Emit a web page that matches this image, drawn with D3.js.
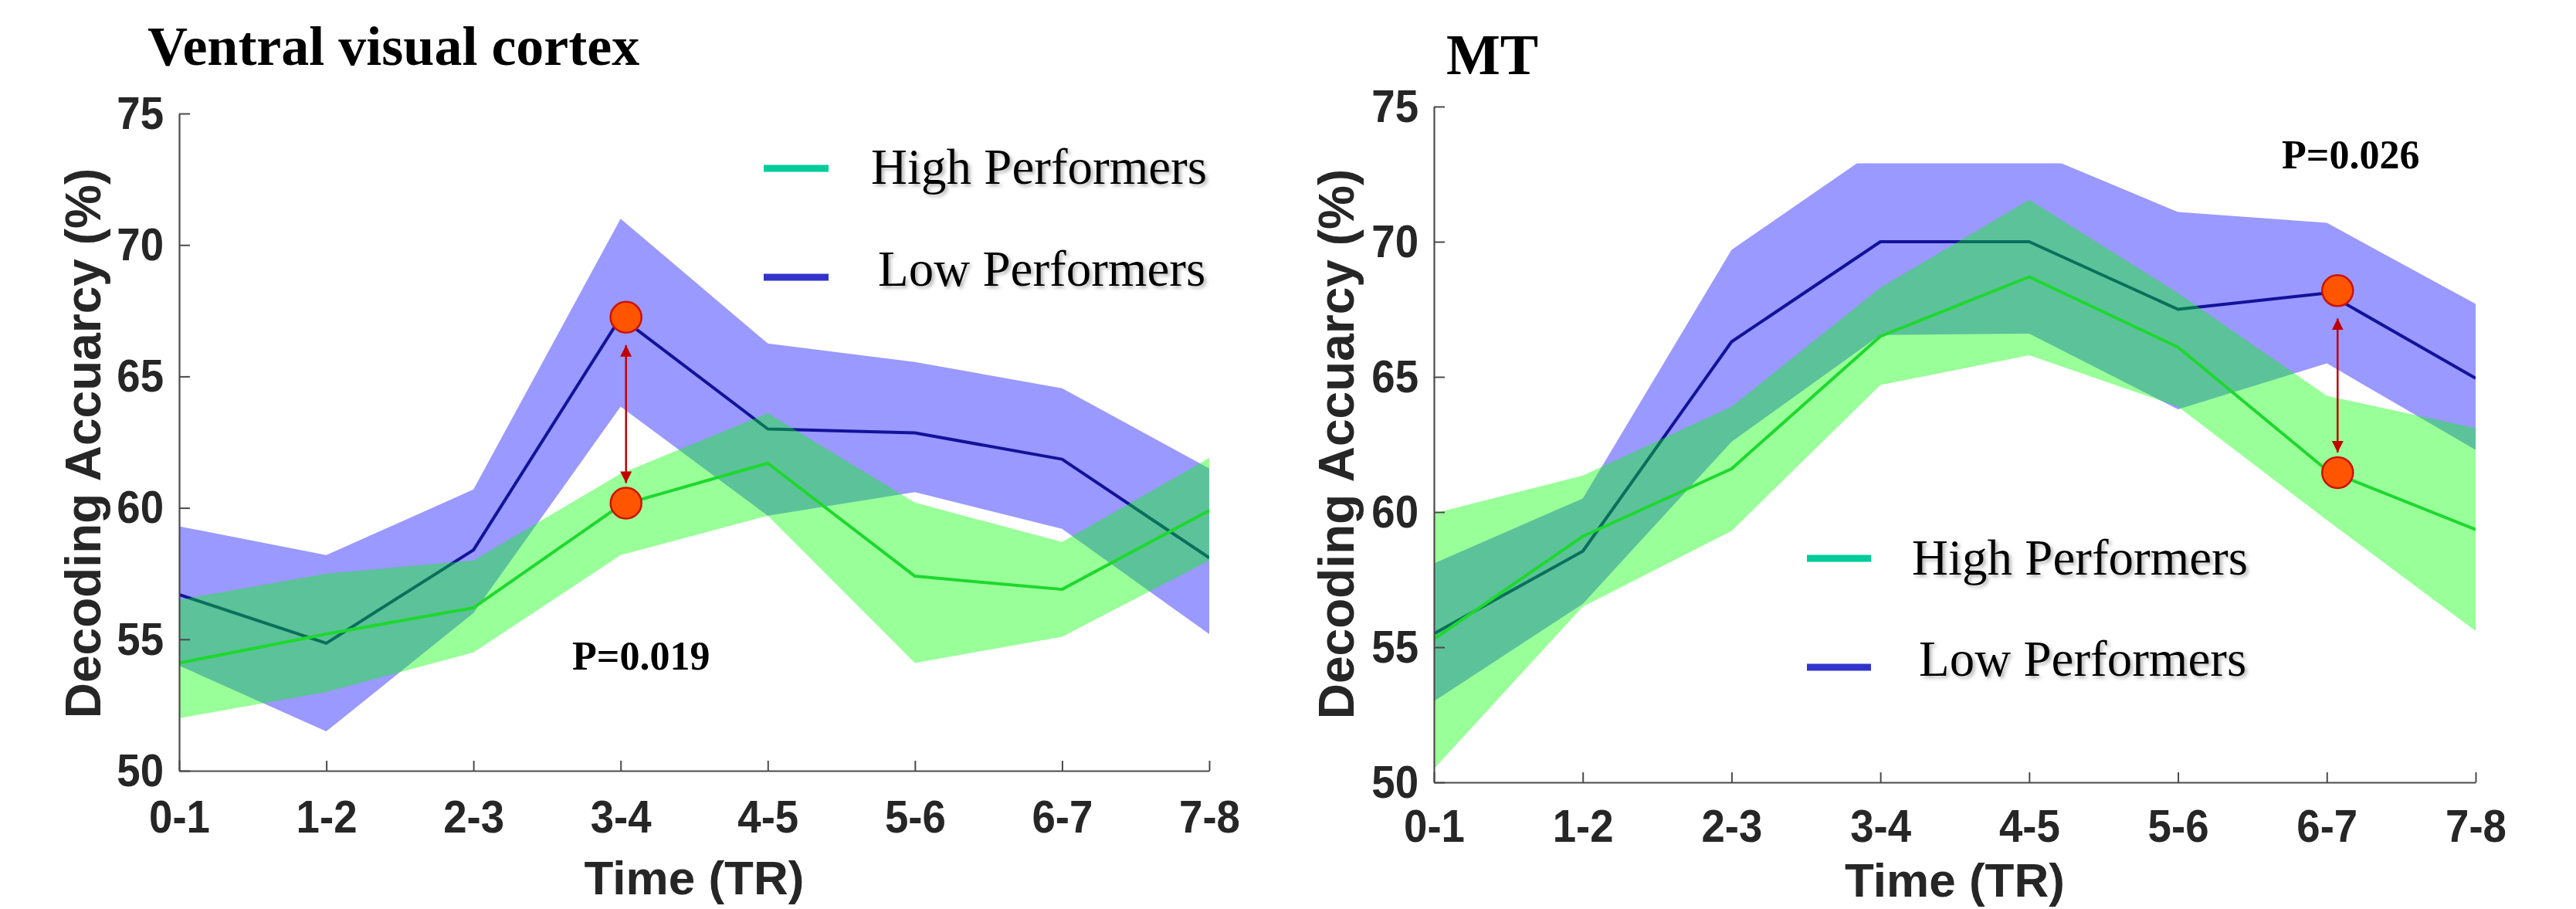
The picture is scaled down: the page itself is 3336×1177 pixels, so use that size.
<!DOCTYPE html>
<html>
<head>
<meta charset="utf-8">
<script src="https://cdn.jsdelivr.net/npm/d3@7"></script>
<style>
  html, body { margin: 0; padding: 0; background: #fff; }
  svg { display: block; }
</style>
</head>
<body>
<svg id="chart" width="3336" height="1177"></svg>
<script>
// ---------- data ----------
const categories = ["0-1", "1-2", "2-3", "3-4", "4-5", "5-6", "6-7", "7-8"];
const yTickValues = [50, 55, 60, 65, 70, 75];
const yDomain = [50, 75];
const seriesNames = ["High Performers", "Low Performers"];

// Ventral visual cortex
const ventralLowMean  = [56.7, 54.85, 58.4, 67.25, 63.0, 62.85, 61.85, 58.1];
const ventralLowUpper = [59.3, 58.2, 60.7, 71.0, 66.25, 65.55, 64.55, 61.5];
const ventralLowLower = [54.0, 51.5, 56.0, 63.85, 59.7, 60.6, 59.2, 55.2];
const ventralHighMean  = [54.1, 55.2, 56.2, 60.1, 61.7, 57.4, 56.9, 59.9];
const ventralHighUpper = [56.5, 57.5, 58.0, 61.3, 63.6, 60.2, 58.7, 61.9];
const ventralHighLower = [52.0, 53.0, 54.5, 58.2, 59.7, 54.1, 55.1, 58.0];
const ventralSig = { category: "3-4", low: 67.25, high: 60.18, label: "P=0.019" };

// MT
const mtLowMean  = [55.5, 58.55, 66.3, 70.0, 70.0, 67.5, 68.1, 64.95];
const mtLowUpper = [58.1, 60.5, 69.7, 73.5, 73.4, 71.1, 70.7, 67.7];
const mtLowLower = [53.0, 56.6, 62.6, 66.55, 66.6, 63.8, 65.5, 62.3];
const mtHighMean  = [55.3, 59.1, 61.6, 66.5, 68.7, 66.1, 61.55, 59.35];
const mtHighUpper = [59.95, 61.35, 63.9, 68.3, 71.55, 68.1, 64.3, 63.1];
const mtHighLower = [50.5, 56.5, 59.3, 64.7, 65.8, 63.9, 59.7, 55.6];
const mtSig = { category: "6-7", low: 68.19, high: 61.46, label: "P=0.026" };
const mtBandCeiling = 72.9; // band area cut off above this value in the original figure

// ---------- layout / style ----------
const panels = [
  {
    title: "Ventral visual cortex", titleX: 191, titleY: 84, titleSize: 72,
    x0: 232, x1: 1566, yTop: 147, yBottom: 998, xLabelPad: 37,
    yLabelX: 130, yLabelY: 574, xTitleY: 1158,
    low: { mean: ventralLowMean, upper: ventralLowUpper, lower: ventralLowLower },
    high: { mean: ventralHighMean, upper: ventralHighUpper, lower: ventralHighLower },
    sig: ventralSig, sigDx: 7, pX: 741, pY: 867, ceiling: null,
    legend: { lineX0: 989, lineX1: 1073, highY: 218, lowY: 359, highTextX: 1128, highTextY: 238, lowTextX: 1137, lowTextY: 370 }
  },
  {
    title: "MT", titleX: 1873, titleY: 96, titleSize: 74,
    x0: 1857, x1: 3206, yTop: 138, yBottom: 1013, xLabelPad: 34,
    yLabelX: 1753, yLabelY: 575, xTitleY: 1161,
    low: { mean: mtLowMean, upper: mtLowUpper, lower: mtLowLower },
    high: { mean: mtHighMean, upper: mtHighUpper, lower: mtHighLower },
    sig: mtSig, sigDx: 14, pX: 2955, pY: 218, ceiling: mtBandCeiling,
    legend: { lineX0: 2340, lineX1: 2423, highY: 723, lowY: 864, highTextX: 2476, highTextY: 744, lowTextX: 2485, lowTextY: 875 }
  }
];

const colors = {
  lowBand: "rgb(0,0,255)", highBand: "rgb(0,255,0)", bandOpacity: 0.4,
  lowLine: "#12129a", highLine: "#1ed82e",
  legendHigh: "#00cc99", legendLow: "#3333cc",
  axis: "#4a4a4a", tickText: "#262626",
  dotFill: "#ff5500", dotStroke: "#cc1100", arrow: "#c00000"
};
const sansBold = "'Liberation Sans', Arial, 'DejaVu Sans', sans-serif";
const serif = "'Liberation Serif', 'Times New Roman', 'DejaVu Serif', serif";
const squeeze = 0.91;

const svg = d3.select("#chart");
const defs = svg.append("defs");
const shadow = defs.append("filter").attr("id", "txtShadow")
  .attr("x", "-10%").attr("y", "-30%").attr("width", "130%").attr("height", "160%");
shadow.append("feDropShadow").attr("dx", 3).attr("dy", 3).attr("stdDeviation", 2)
  .attr("flood-color", "#888").attr("flood-opacity", 0.6);

// arrow markers
function addMarker(id, orient) {
  defs.append("marker").attr("id", id)
    .attr("viewBox", "0 0 10 10").attr("refX", 10).attr("refY", 5)
    .attr("markerWidth", 6).attr("markerHeight", 6)
    .attr("markerUnits", "strokeWidth")
    .attr("orient", orient)
    .append("path").attr("d", "M0,0 L10,5 L0,10 Z").attr("fill", colors.arrow);
}
addMarker("arrowEnd", "auto");
addMarker("arrowStart", "auto-start-reverse");

panels.forEach((p, pi) => {
  const x = d3.scalePoint().domain(categories).range([p.x0, p.x1]).padding(0);
  const y = d3.scaleLinear().domain(yDomain).range([p.yBottom, p.yTop]);
  const g = svg.append("g");

  const clipId = "clip" + pi;
  const clipTop = p.ceiling != null ? y(p.ceiling) : p.yTop - 200;
  defs.append("clipPath").attr("id", clipId).append("rect")
    .attr("x", p.x0).attr("y", clipTop)
    .attr("width", p.x1 - p.x0).attr("height", p.yBottom - clipTop);

  const area = s => d3.area()
    .x((d, i) => x(categories[i]))
    .y0((d, i) => y(s.lower[i]))
    .y1((d, i) => y(s.upper[i]))(s.mean);
  const line = arr => d3.line().x((d, i) => x(categories[i])).y(d => y(d))(arr);

  const plot = g.append("g").attr("clip-path", `url(#${clipId})`);
  plot.append("path").attr("d", area(p.low)).attr("fill", colors.lowBand).attr("fill-opacity", colors.bandOpacity);
  plot.append("path").attr("d", line(p.low.mean)).attr("fill", "none").attr("stroke", colors.lowLine).attr("stroke-width", 4).attr("stroke-linejoin", "round");
  plot.append("path").attr("d", area(p.high)).attr("fill", colors.highBand).attr("fill-opacity", colors.bandOpacity);
  plot.append("path").attr("d", line(p.high.mean)).attr("fill", "none").attr("stroke", colors.highLine).attr("stroke-width", 4).attr("stroke-linejoin", "round");

  // axes
  const xAxis = d3.axisBottom(x).tickSizeInner(-13).tickSizeOuter(0).tickPadding(p.xLabelPad);
  const yAxis = d3.axisLeft(y).tickValues(yTickValues).tickSizeInner(-14).tickSizeOuter(0).tickPadding(20);
  const gx = g.append("g").attr("transform", `translate(0,${p.yBottom})`).call(xAxis);
  const gy = g.append("g").attr("transform", `translate(${p.x0},0)`).call(yAxis);
  [gx, gy].forEach(ax => {
    ax.select(".domain").attr("stroke", colors.axis).attr("stroke-width", 2.2);
    ax.selectAll(".tick line").attr("stroke", colors.axis).attr("stroke-width", 2);
    ax.selectAll(".tick text").attr("fill", colors.tickText)
      .style("font-family", sansBold).style("font-weight", "bold").style("font-size", "60px");
  });
  gx.selectAll(".tick text").attr("transform", `scale(${squeeze},1)`);
  gy.selectAll(".tick text").attr("x", -20 / squeeze).attr("transform", `scale(${squeeze},1)`);

  // axis titles
  g.append("text")
    .attr("transform", `translate(${p.yLabelX},${p.yLabelY}) rotate(-90)`)
    .attr("text-anchor", "middle").attr("fill", colors.tickText)
    .style("font-family", sansBold).style("font-weight", "bold").style("font-size", "64px")
    .text("Decoding Accuarcy (%)");
  g.append("text")
    .attr("x", (p.x0 + p.x1) / 2).attr("y", p.xTitleY)
    .attr("text-anchor", "middle").attr("fill", colors.tickText)
    .style("font-family", sansBold).style("font-weight", "bold").style("font-size", "62px")
    .text("Time (TR)");

  // panel title
  g.append("text").attr("x", p.titleX).attr("y", p.titleY)
    .attr("fill", "#000").style("font-family", serif).style("font-weight", "bold")
    .style("font-size", p.titleSize + "px").text(p.title);

  // legend
  const L = p.legend;
  g.append("line").attr("x1", L.lineX0).attr("x2", L.lineX1).attr("y1", L.highY).attr("y2", L.highY)
    .attr("stroke", colors.legendHigh).attr("stroke-width", 9);
  g.append("line").attr("x1", L.lineX0).attr("x2", L.lineX1).attr("y1", L.lowY).attr("y2", L.lowY)
    .attr("stroke", colors.legendLow).attr("stroke-width", 9);
  g.append("text").attr("x", L.highTextX).attr("y", L.highTextY)
    .attr("filter", "url(#txtShadow)").attr("fill", "#000")
    .style("font-family", serif).style("font-size", "65px").text(seriesNames[0]);
  g.append("text").attr("x", L.lowTextX).attr("y", L.lowTextY)
    .attr("filter", "url(#txtShadow)").attr("fill", "#000")
    .style("font-family", serif).style("font-size", "65px").text(seriesNames[1]);

  // significance markers
  const sx = x(p.sig.category) + p.sigDx;
  const yLow = y(p.sig.low), yHigh = y(p.sig.high);
  const r = 20;
  g.append("line").attr("x1", sx).attr("x2", sx)
    .attr("y1", yLow + r + 16).attr("y2", yHigh - r - 6)
    .attr("stroke", colors.arrow).attr("stroke-width", 2.5)
    .attr("marker-start", "url(#arrowStart)").attr("marker-end", "url(#arrowEnd)");
  [yLow, yHigh].forEach(cy => {
    g.append("circle").attr("cx", sx).attr("cy", cy).attr("r", r)
      .attr("fill", colors.dotFill).attr("stroke", colors.dotStroke).attr("stroke-width", 2.5);
  });
  g.append("text").attr("x", p.pX).attr("y", p.pY).attr("fill", "#000")
    .style("font-family", serif).style("font-weight", "bold").style("font-size", "52px")
    .text(p.sig.label);
});
</script>
</body>
</html>
